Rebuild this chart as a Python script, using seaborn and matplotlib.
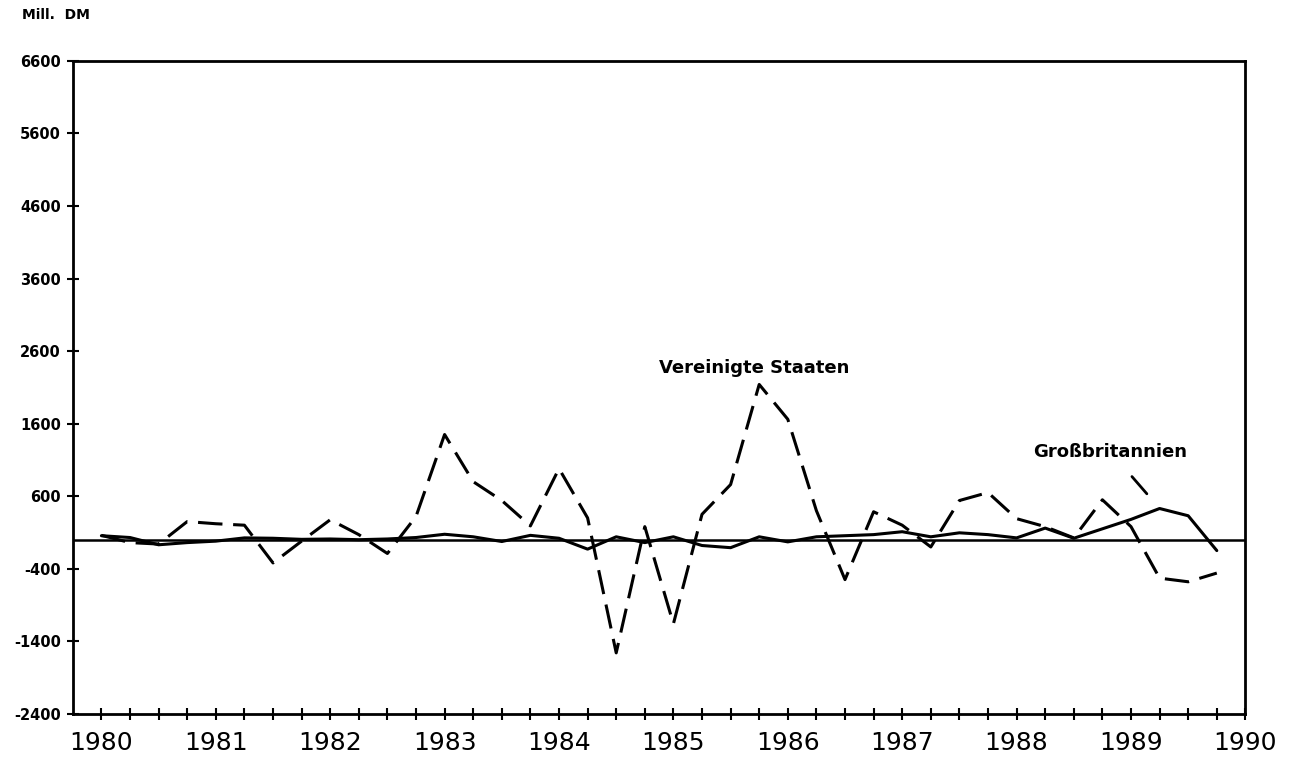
import numpy as np
import pandas as pd
import matplotlib
matplotlib.use("Agg")
import matplotlib.pyplot as plt
import seaborn as sns

# quarterly values 1980 Q1 .. 1989 Q4, Mill. DM
quarters = np.arange(1980, 1990, 0.25)
usa = [60, -40, -60, 250, 220, 200, -320, -20, 275, 70,
       -190, 320, 1450, 800, 540, 190, 980, 300, -1560, 180,
       -1160, 350, 760, 2140, 1660, 400, -550, 385, 200, -100,
       540, 650, 290, 180, 25, 550, 180, -530, -580, -460]
gb = [55, 30, -70, -40, -20, 25, 20, 5, 10, 0,
      10, 30, 75, 40, -25, 60, 20, -130, 40, -40,
      40, -80, -110, 40, -30, 40, 55, 70, 110, 40,
      95, 70, 25, 160, 20, 150, 280, 430, 330, -150]

year_ticks = list(range(1980, 1991))
y_ticks = list(range(-2400, 6601, 1000))

df = pd.DataFrame({"Quartal": quarters, "Vereinigte Staaten": usa,
                   "Großbritannien": gb})

sns.set_style("white")
plt.rcParams["font.family"] = ["DejaVu Sans"]
plt.rcParams["text.color"] = "black"
plt.rcParams["xtick.color"] = "black"
plt.rcParams["ytick.color"] = "black"

fig = plt.figure(figsize=(13, 7.61), dpi=100)
ax = fig.add_axes([0.056, 0.062, 0.902, 0.858])

ax.axhline(0, color="black", lw=1.8, zorder=1)
sns.lineplot(data=df, x="Quartal", y="Großbritannien", ax=ax,
             color="black", lw=2.2)
sns.lineplot(data=df, x="Quartal", y="Vereinigte Staaten", ax=ax,
             color="black", lw=2.2, dashes=False)
ax.lines[-1].set_dashes((8, 3.5))

ax.set_xlim(1979.75, 1990)
ax.set_ylim(-2400, 6600)
ax.set_xticks(year_ticks)
ax.set_xticklabels([str(y) for y in year_ticks], fontsize=18)
ax.set_xticks(quarters, minor=True)
ax.set_yticks(y_ticks)
ax.set_yticklabels([str(v) for v in y_ticks], fontsize=10.5,
                   fontweight="bold")
ax.tick_params(axis="both", which="both", direction="inout", length=9,
               width=1.5, color="black", labelcolor="black",
               bottom=True, left=True)
ax.tick_params(axis="x", pad=8)
ax.tick_params(axis="y", pad=4)
ax.set_xlabel("")
ax.set_ylabel("")
for s in ax.spines.values():
    s.set_color("black")
    s.set_linewidth(2)

ax.text(1985.71, 2370, "Vereinigte Staaten", ha="center", va="center",
        fontsize=13, fontweight="bold", color="black")
ax.annotate("Großbritannien", xy=(quarters[37], gb[37]),
            xytext=(1988.82, 1213), ha="center", va="center",
            fontsize=13, fontweight="bold", color="black",
            arrowprops=dict(arrowstyle="-", color="black", lw=2,
                            shrinkA=12, shrinkB=14))

fig.text(0.017, 0.98, "Mill.  DM", ha="left", va="center",
         fontsize=10, fontweight="bold", color="black")

fig.savefig("out.png", dpi=100)
